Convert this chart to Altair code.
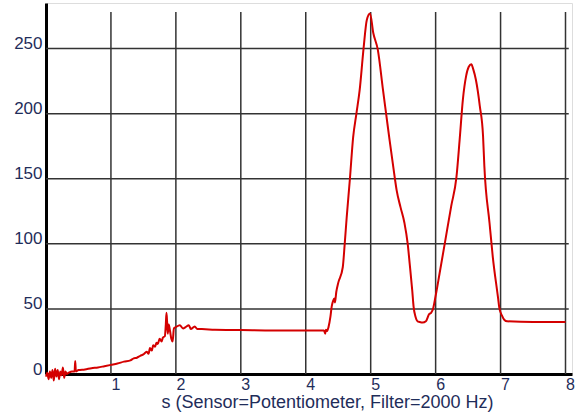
import altair as alt
import pandas as pd

# Position (s) and sensor reading
xs = [0.0, 0.02, 0.04, 0.06, 0.08, 0.10, 0.12, 0.14, 0.16, 0.18, 0.20, 0.22, 0.24,
      0.26, 0.28, 0.30, 0.32, 0.35, 0.40, 0.44, 0.45, 0.46, 0.50, 0.60, 0.70, 0.80,
      0.90, 1.00, 1.10, 1.20, 1.30, 1.35, 1.40, 1.45, 1.50, 1.55, 1.58, 1.60, 1.63,
      1.65, 1.68, 1.70, 1.72, 1.75,
      1.78, 1.80, 1.83, 1.845, 1.855, 1.865, 1.875, 1.89, 1.91, 1.93, 1.95, 1.97,
      2.00, 2.06, 2.11, 2.15, 2.20, 2.23, 2.29, 2.33, 2.40, 2.60, 3.00, 3.50, 4.00,
      4.28, 4.30, 4.31, 4.33, 4.35, 4.38, 4.40, 4.42, 4.44, 4.45, 4.47, 4.50, 4.57,
      4.60, 4.63, 4.68, 4.73, 4.78, 4.83, 4.89, 4.94, 4.99, 5.04, 5.11, 5.19, 5.24,
      5.29, 5.37, 5.40, 5.46, 5.52, 5.57, 5.60, 5.64, 5.66, 5.69, 5.72, 5.75, 5.80,
      5.85, 5.90, 5.93, 5.96, 6.00, 6.06, 6.14, 6.24, 6.32, 6.37, 6.42, 6.47, 6.51,
      6.55, 6.58, 6.62, 6.68, 6.73, 6.75, 6.83, 6.88, 6.96, 6.98, 7.02, 7.06, 7.10,
      7.50, 8.00]
ys = [-2, 1, -4, 2, -3, 3, -5, 4, -2, 3, -4, 2, -1,
      5, -3, 2, 0, 1, 2, 2, 10, 2, 3, 3.5, 4.5, 5,
      6, 7, 8, 9.5, 10.5, 12, 12.5, 14, 15, 17, 15.5, 20, 18,
      22, 21, 24, 23, 27,
      25, 28, 29, 38, 47, 40, 31, 38, 33, 27, 25, 35,
      36, 37.5, 35, 36, 37.5, 34.5, 36.5, 34.5, 34.5, 34, 33.8, 33.5, 33.5,
      33.5, 31, 34, 33, 36, 44, 52, 56, 58, 55, 63, 70, 82,
      100, 120, 150, 182, 200, 218, 250, 272, 277, 262, 249, 218, 199,
      180, 151, 141, 128, 116, 100, 85, 64, 52, 44, 40.5, 40, 39.5,
      40.5, 46, 47, 50, 60, 77, 100, 129, 151, 180, 211, 229, 236,
      238, 234, 226, 206, 183, 160, 116, 90, 59, 51, 45, 41.5, 40.5,
      40, 40]

x_ticks = [1, 2, 3, 4, 5, 6, 7, 8]
y_ticks = [0, 50, 100, 150, 200, 250]
grid_y = [50, 100, 150, 200, 250]

TEXT = "#1f2d5a"
FONT = "Liberation Sans"

data = pd.DataFrame({"x": xs, "y": ys})
vgrid = pd.DataFrame({"x": x_ticks, "y0": [0] * len(x_ticks), "y1": [278] * len(x_ticks)})
hgrid = pd.DataFrame({"y": grid_y, "x0": [0] * len(grid_y), "x1": [8.05] * len(grid_y)})

xscale = alt.Scale(domain=[0, 8.1], nice=False, zero=False)
yscale = alt.Scale(domain=[0, 285], nice=False, zero=False)

x_axis = alt.Axis(values=x_ticks, format="d", title="s (Sensor=Potentiometer, Filter=2000 Hz)",
                  labelAlign="left", labelBaseline="top", labelPadding=2,
                  ticks=False, grid=False, domainColor="black", domainWidth=3,
                  labelFont=FONT, labelFontSize=16, labelColor=TEXT,
                  titleFont=FONT, titleFontSize=18, titleFontWeight="normal", titleColor=TEXT,
                  titleX=281, titleY=33, titleBaseline="alphabetic", titleAlign="center",
                  labelFlush=False, labelOverlap=False)
y_axis = alt.Axis(values=y_ticks, format="d", title=None, labelBaseline="alphabetic", labelPadding=4,
                  ticks=False, grid=False, domainColor="black", domainWidth=3,
                  labelFont=FONT, labelFontSize=17, labelColor=TEXT, labelFlush=False,
                  labelOverlap=False)

vg = alt.Chart(vgrid).mark_rule(color="#333333", strokeWidth=1.5).encode(
    x=alt.X("x:Q", scale=xscale, axis=x_axis),
    y=alt.Y("y0:Q", scale=yscale, axis=y_axis),
    y2="y1:Q",
)
hg = alt.Chart(hgrid).mark_rule(color="#333333", strokeWidth=1.5).encode(
    x=alt.X("x0:Q", scale=xscale),
    x2="x1:Q",
    y=alt.Y("y:Q", scale=yscale),
)
line = alt.Chart(data).mark_line(color="#d40000", strokeWidth=2, interpolate="monotone").encode(
    x=alt.X("x:Q", scale=xscale),
    y=alt.Y("y:Q", scale=yscale),
    order="x:Q",
)

chart = alt.layer(vg, hg, line).properties(
    width=526, height=371,
    padding={"left": 46, "top": 3, "right": 3, "bottom": 45},
    autosize=alt.AutoSizeParams(type="none"),
).configure_view(stroke=None).configure(background="white")

chart.save("out.html", embed_options={"renderer": "svg", "actions": False})
